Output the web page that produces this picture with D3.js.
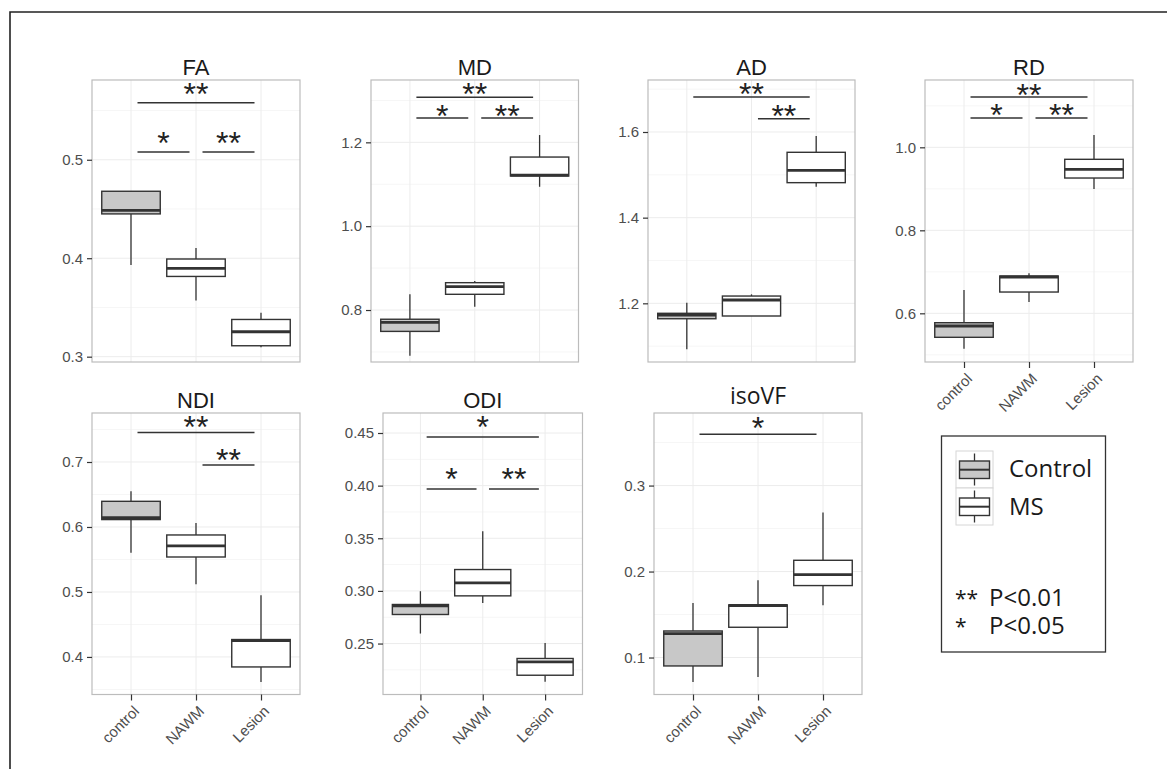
<!DOCTYPE html>
<html>
<head>
<meta charset="utf-8">
<script src="https://cdnjs.cloudflare.com/ajax/libs/d3/7.8.5/d3.min.js"></script>
<style>
  body { margin: 0; background: #fff; }
  svg { display: block; }
</style>
</head>
<body>
<svg id="chart" width="1167" height="769"></svg>
<script>
  // ------------------------------------------------------------
  // Data
  // ------------------------------------------------------------
  const groups = ["control", "NAWM", "Lesion"];
  const metrics = ["FA", "MD", "AD", "RD", "NDI", "ODI", "isoVF"];

  // per group: [lower whisker, Q1, median, Q3, upper whisker]
  const faBoxes = [[0.393, 0.445, 0.4485, 0.468, 0.468], [0.357, 0.3815, 0.3896, 0.3992, 0.4104], [0.3097, 0.3111, 0.3253, 0.3378, 0.3447]];
  const mdBoxes = [[0.691, 0.749, 0.7706, 0.778, 0.8375], [0.808, 0.8375, 0.8556, 0.8652, 0.869], [1.094, 1.1196, 1.122, 1.1649, 1.2174]];
  const adBoxes = [[1.0926, 1.164, 1.1727, 1.1767, 1.2014], [1.1704, 1.1704, 1.2078, 1.217, 1.221], [1.4723, 1.4817, 1.5106, 1.5526, 1.5907]];
  const rdBoxes = [[0.5147, 0.5422, 0.5694, 0.5774, 0.6561], [0.6272, 0.6513, 0.6875, 0.6899, 0.6963], [0.8995, 0.926, 0.947, 0.9711, 1.0296]];
  const ndiBoxes = [[0.5603, 0.6114, 0.6145, 0.6395, 0.6549], [0.5118, 0.5538, 0.5708, 0.5877, 0.6062], [0.3615, 0.3846, 0.4252, 0.4268, 0.4949]];
  const odiBoxes = [[0.2595, 0.2776, 0.2858, 0.2871, 0.2997], [0.2886, 0.2953, 0.3076, 0.3203, 0.3566], [0.2136, 0.2199, 0.2326, 0.2358, 0.2506]];
  const isoBoxes = [[0.0716, 0.0902, 0.1279, 0.1309, 0.1635], [0.0773, 0.1352, 0.1605, 0.1612, 0.1899], [0.1608, 0.1837, 0.1965, 0.2131, 0.2686]];

  // y axis limits and tick labels
  const yDomains = [[0.2946, 0.581], [0.676, 1.3487], [1.063, 1.7214], [0.4827, 1.1622], [0.3422, 0.7754], [0.2016, 0.469], [0.057, 0.3844]];
  const yTicks = [[0.3, 0.4, 0.5], [0.8, 1.0, 1.2], [1.2, 1.4, 1.6], [0.6, 0.8, 1.0], [0.4, 0.5, 0.6, 0.7], [0.25, 0.30, 0.35, 0.40, 0.45], [0.1, 0.2, 0.3]];
  const yFormats = [".1f", ".1f", ".1f", ".1f", ".1f", ".2f", ".1f"];

  // significance bars: [from group, to group, bar value, label, label value]
  const faSig = [[0, 2, 0.558, "**", 0.5734], [0, 1, 0.5078, "*", 0.524], [1, 2, 0.5078, "**", 0.524]];
  const mdSig = [[0, 2, 1.3074, "**", 1.3315], [0, 1, 1.258, "*", 1.28], [1, 2, 1.258, "**", 1.28]];
  const adSig = [[0, 2, 1.6817, "**", 1.7045], [1, 2, 1.631, "**", 1.654]];
  const rdSig = [[0, 2, 1.1212, "**", 1.144], [0, 1, 1.0706, "*", 1.094], [1, 2, 1.0706, "**", 1.094]];
  const ndiSig = [[0, 2, 0.7452, "**", 0.7642], [1, 2, 0.6954, "**", 0.7145]];
  const odiSig = [[0, 2, 0.4462, "*", 0.462], [0, 1, 0.3969, "*", 0.4127], [1, 2, 0.3969, "**", 0.4127]];
  const isoSig = [[0, 2, 0.3597, "*", 0.3756]];

  const legendLabels = ["Control", "MS"];
  const pLabels = [["**", "P<0.01"], ["*", "P<0.05"]];

  const allBoxes = [faBoxes, mdBoxes, adBoxes, rdBoxes, ndiBoxes, odiBoxes, isoBoxes];
  const allSig = [faSig, mdSig, adSig, rdSig, ndiSig, odiSig, isoSig];

  // ------------------------------------------------------------
  // Layout
  // ------------------------------------------------------------
  const layout = [
    { x: 92, y: 80, w: 208, h: 282, xAxis: false },
    { x: 371, y: 80, w: 207.5, h: 282, xAxis: false },
    { x: 648, y: 80, w: 207, h: 282, xAxis: false },
    { x: 925, y: 80, w: 208, h: 282, xAxis: true },
    { x: 92, y: 413, w: 208, h: 281.5, xAxis: true },
    { x: 383, y: 413, w: 199.5, h: 281.5, xAxis: true },
    { x: 654, y: 413, w: 208, h: 281.5, xAxis: true }
  ];

  const ink = "#333";
  const controlFill = "#c8c8c8";
  const axisFont = "'Liberation Sans', Arial, sans-serif";
  const legendFont = "'Open Sans', sans-serif";

  const svg = d3.select("#chart");

  // outer frame (top and left edges)
  svg.append("path")
    .attr("d", "M10,769V12H1167")
    .attr("fill", "none").attr("stroke", "#222").attr("stroke-width", 1.6);

  metrics.forEach((m, i) => {
    const p = layout[i];
    const g = svg.append("g").attr("transform", `translate(${p.x},${p.y})`);

    const x = d3.scalePoint().domain(groups).range([0, p.w]).padding(0.6);
    const y = d3.scaleLinear().domain(yDomains[i]).range([p.h, 0]);
    const bw = x.step() * 0.9;
    const ticks = yTicks[i];

    // minor grid
    const step = ticks[1] - ticks[0];
    const minors = [];
    for (let k = -1; k < ticks.length; k++) {
      const v = ticks[0] + step * (k + 0.5);
      if (v > yDomains[i][0] && v < yDomains[i][1]) minors.push(v);
    }
    g.selectAll(".minor").data(minors).enter().append("line")
      .attr("x1", 0).attr("x2", p.w)
      .attr("y1", d => y(d)).attr("y2", d => y(d))
      .attr("stroke", "#f6f6f6").attr("stroke-width", 1);

    // major grid
    g.selectAll(".major").data(ticks).enter().append("line")
      .attr("x1", 0).attr("x2", p.w)
      .attr("y1", d => y(d)).attr("y2", d => y(d))
      .attr("stroke", "#ececec").attr("stroke-width", 1);
    g.selectAll(".vmajor").data(groups).enter().append("line")
      .attr("x1", d => x(d)).attr("x2", d => x(d))
      .attr("y1", 0).attr("y2", p.h)
      .attr("stroke", "#ececec").attr("stroke-width", 1);

    // boxes
    const boxes = allBoxes[i];
    groups.forEach((grp, j) => {
      const [lo, q1, med, q3, hi] = boxes[j];
      const cx = x(grp);
      g.append("line")
        .attr("x1", cx).attr("x2", cx).attr("y1", y(q3)).attr("y2", y(hi))
        .attr("stroke", ink).attr("stroke-width", 1.3);
      g.append("line")
        .attr("x1", cx).attr("x2", cx).attr("y1", y(q1)).attr("y2", y(lo))
        .attr("stroke", ink).attr("stroke-width", 1.3);
      g.append("rect")
        .attr("x", cx - bw / 2).attr("y", y(q3))
        .attr("width", bw).attr("height", Math.max(0.5, y(q1) - y(q3)))
        .attr("fill", j === 0 ? controlFill : "#fff")
        .attr("stroke", ink).attr("stroke-width", 1.4);
      g.append("line")
        .attr("x1", cx - bw / 2).attr("x2", cx + bw / 2)
        .attr("y1", y(med)).attr("y2", y(med))
        .attr("stroke", ink).attr("stroke-width", 2.8);
    });

    // significance bars
    allSig[i].forEach(([a, b, v, lab, lv]) => {
      const x1 = x(groups[a]) + x.step() * 0.1;
      const x2 = x(groups[b]) - x.step() * 0.1;
      g.append("line")
        .attr("x1", x1).attr("x2", x2).attr("y1", y(v)).attr("y2", y(v))
        .attr("stroke", ink).attr("stroke-width", 1.5);
      g.append("text")
        .attr("x", (x(groups[a]) + x(groups[b])) / 2)
        .attr("y", y(lv) + 18)
        .attr("text-anchor", "middle")
        .attr("font-family", axisFont).attr("font-size", 32)
        .attr("fill", "#222")
        .text(lab);
    });

    // panel border
    g.append("rect")
      .attr("x", 0).attr("y", 0).attr("width", p.w).attr("height", p.h)
      .attr("fill", "none").attr("stroke", "#bcbcbc").attr("stroke-width", 1.2);

    // y axis
    const yAxis = g.append("g")
      .call(d3.axisLeft(y).tickValues(ticks).tickFormat(d3.format(yFormats[i])).tickSize(5).tickPadding(4));
    yAxis.select(".domain").remove();
    yAxis.selectAll(".tick line").attr("stroke", ink).attr("stroke-width", 1.2);
    yAxis.selectAll(".tick text")
      .attr("font-family", axisFont).attr("font-size", 15).attr("fill", "#4d4d4d");

    // x axis
    if (p.xAxis) {
      const xAxis = g.append("g").attr("transform", `translate(0,${p.h})`)
        .call(d3.axisBottom(x).tickSize(6).tickPadding(0));
      xAxis.select(".domain").remove();
      xAxis.selectAll(".tick line").attr("stroke", ink).attr("stroke-width", 1.2);
      xAxis.selectAll(".tick text")
        .attr("font-family", axisFont).attr("font-size", 15).attr("fill", "#4d4d4d")
        .attr("text-anchor", "end")
        .attr("y", 0)
        .attr("transform", "translate(1,10) rotate(-45)")
        .attr("dy", "0.72em");
    }

    // title
    const isIso = m === "isoVF";
    svg.append("text")
      .attr("x", p.x + p.w / 2)
      .attr("y", p.y - (isIso ? 9.5 : 5))
      .attr("text-anchor", "middle")
      .attr("font-family", isIso ? legendFont : axisFont)
      .attr("font-size", isIso ? 23 : 22)
      .attr("fill", "#1a1a1a")
      .text(m);
  });

  // ------------------------------------------------------------
  // Legend
  // ------------------------------------------------------------
  const lg = svg.append("g");
  lg.append("rect")
    .attr("x", 941.5).attr("y", 436).attr("width", 164).attr("height", 216)
    .attr("fill", "#fff").attr("stroke", "#333").attr("stroke-width", 1.3);

  legendLabels.forEach((lab, k) => {
    const kx = 956, ky = 451 + k * 37, ks = 37;
    lg.append("rect")
      .attr("x", kx).attr("y", ky).attr("width", ks).attr("height", ks)
      .attr("fill", "#fff").attr("stroke", "#d6d6d6").attr("stroke-width", 1);
    const cx = kx + ks / 2;
    lg.append("line")
      .attr("x1", cx).attr("x2", cx).attr("y1", ky + 2.5).attr("y2", ky + ks - 2.5)
      .attr("stroke", ink).attr("stroke-width", 1.3);
    lg.append("rect")
      .attr("x", cx - 15).attr("y", ky + 10).attr("width", 30).attr("height", 17.5)
      .attr("fill", k === 0 ? controlFill : "#fff")
      .attr("stroke", ink).attr("stroke-width", 1.4);
    lg.append("line")
      .attr("x1", cx - 15).attr("x2", cx + 15).attr("y1", ky + 18.7).attr("y2", ky + 18.7)
      .attr("stroke", ink).attr("stroke-width", 2);
    lg.append("text")
      .attr("x", 1009).attr("y", 477 + k * 37.5)
      .attr("font-family", legendFont).attr("font-size", 24)
      .attr("fill", "#1a1a1a")
      .text(lab);
  });

  pLabels.forEach(([stars, txt], k) => {
    const by = 606 + k * 28;
    lg.append("text")
      .attr("x", 955).attr("y", by)
      .attr("font-family", legendFont).attr("font-size", 21)
      .attr("fill", "#1a1a1a")
      .text(stars);
    lg.append("text")
      .attr("x", 989).attr("y", by)
      .attr("font-family", legendFont).attr("font-size", 24)
      .attr("fill", "#1a1a1a")
      .text(txt);
  });
</script>
</body>
</html>
